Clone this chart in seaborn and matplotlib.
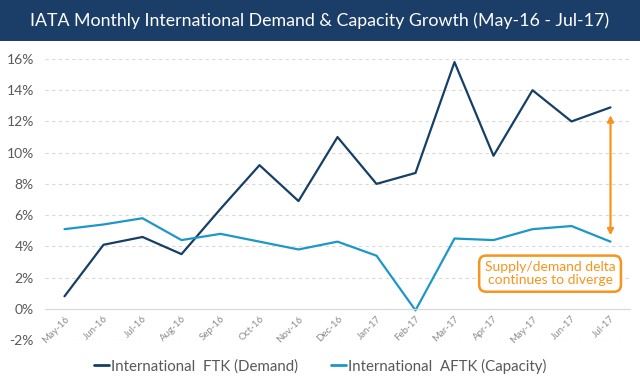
import matplotlib
matplotlib.use("Agg")
import matplotlib.pyplot as plt
import seaborn as sns
import pandas as pd
from matplotlib.patches import Rectangle

months = ["May-16", "Jun-16", "Jul-16", "Aug-16", "Sep-16", "Oct-16", "Nov-16",
          "Dec-16", "Jan-17", "Feb-17", "Mar-17", "Apr-17", "May-17", "Jun-17", "Jul-17"]
ftk = [0.8, 4.1, 4.6, 3.5, 6.4, 9.2, 6.9, 11.0, 8.0, 8.7, 15.8, 9.8, 14.0, 12.0, 12.9]
aftk = [5.1, 5.4, 5.8, 4.4, 4.8, 4.3, 3.8, 4.3, 3.4, -0.1, 4.5, 4.4, 5.1, 5.3, 4.3]
series_names = ["International  FTK (Demand)", "International  AFTK (Capacity)"]
yticks = [-2, 0, 2, 4, 6, 8, 10, 12, 14, 16]
title = "IATA Monthly International Demand & Capacity Growth (May-16 - Jul-17)"
note = "Supply/demand delta\ncontinues to diverge"

sns.set_theme(style="white")
plt.rcParams["font.family"] = ["Lato", "DejaVu Sans"]

df = pd.DataFrame({
    "idx": list(range(len(months))) * 2,
    "value": ftk + aftk,
    "series": [series_names[0]] * len(months) + [series_names[1]] * len(months),
})

fig = plt.figure(figsize=(6.4, 3.89), dpi=100)
ax = fig.add_axes([45 / 640, 1 - 340 / 389, 585 / 640, (340 - 59) / 389])

palette = {series_names[0]: "#163f66", series_names[1]: "#1d97c8"}
sns.lineplot(data=df, x="idx", y="value", hue="series", palette=palette,
             linewidth=1.6, ax=ax, legend=True)

for s in ["top", "right", "left"]:
    ax.spines[s].set_visible(False)
ax.spines["bottom"].set_position(("data", 0))
ax.spines["bottom"].set_color("#d9d9d9")
ax.spines["bottom"].set_linewidth(0.9)

ax.set_xlim(-0.5, len(months) - 0.5)
ax.set_ylim(-2, 16)
ax.tick_params(axis="x", which="major", length=0, pad=4)
ax.tick_params(axis="x", which="minor", length=4, color="#d9d9d9", width=0.8, direction="out")
ax.tick_params(axis="y", length=0, pad=8)
ax.set_yticks(yticks)
ax.set_yticklabels([f"{v}%" for v in yticks], color="#595959", fontsize=10)
ax.set_xticks(range(len(months)))
ax.set_xticks([i - 0.5 for i in range(len(months) + 1)], minor=True)
ax.set_xticklabels(months)
for lab in ax.get_xticklabels():
    lab.set_rotation(45)
    lab.set_rotation_mode("anchor")
    lab.set_ha("right")
    lab.set_va("top")
    lab.set_fontsize(7)
    lab.set_color("#8c8c8c")
ax.set_xlabel("")
ax.set_ylabel("")

for v in yticks:
    if v != 0:
        ax.axhline(v, color="#d9d9d9", linestyle=(0, (3, 3)), linewidth=0.8, zorder=0)

leg = ax.legend(loc="center", bbox_to_anchor=(0.47, -0.093), ncol=2, frameon=False,
                fontsize=10.8, handlelength=1.0, handletextpad=0.15, columnspacing=2.2)
for t in leg.get_texts():
    t.set_color("#595959")
for h in leg.get_lines():
    h.set_linewidth(2.0)

# Arrow annotation
ax.annotate("", xy=(14, 12.4), xytext=(14, 4.7),
            arrowprops=dict(arrowstyle="<|-|>", color="#f7941d", lw=1.6,
                            mutation_scale=9, shrinkA=0, shrinkB=0))
ax.text(12.45, 2.25, note, ha="center", va="center", fontsize=10, color="#f7941d",
        linespacing=1.1,
        bbox=dict(boxstyle="round,pad=0.4,rounding_size=0.5", fc="white",
                  ec="#f7941d", lw=1.8))

# Title banner
fig.patches.append(Rectangle((0, 1 - 41 / 389), 1, 41 / 389, transform=fig.transFigure,
                             facecolor="#1b3e68", edgecolor="none", zorder=0))
fig.text(0.5, 1 - 21 / 389, title, ha="center", va="center", color="white", fontsize=12.8)

fig.savefig("out.png", dpi=100)
